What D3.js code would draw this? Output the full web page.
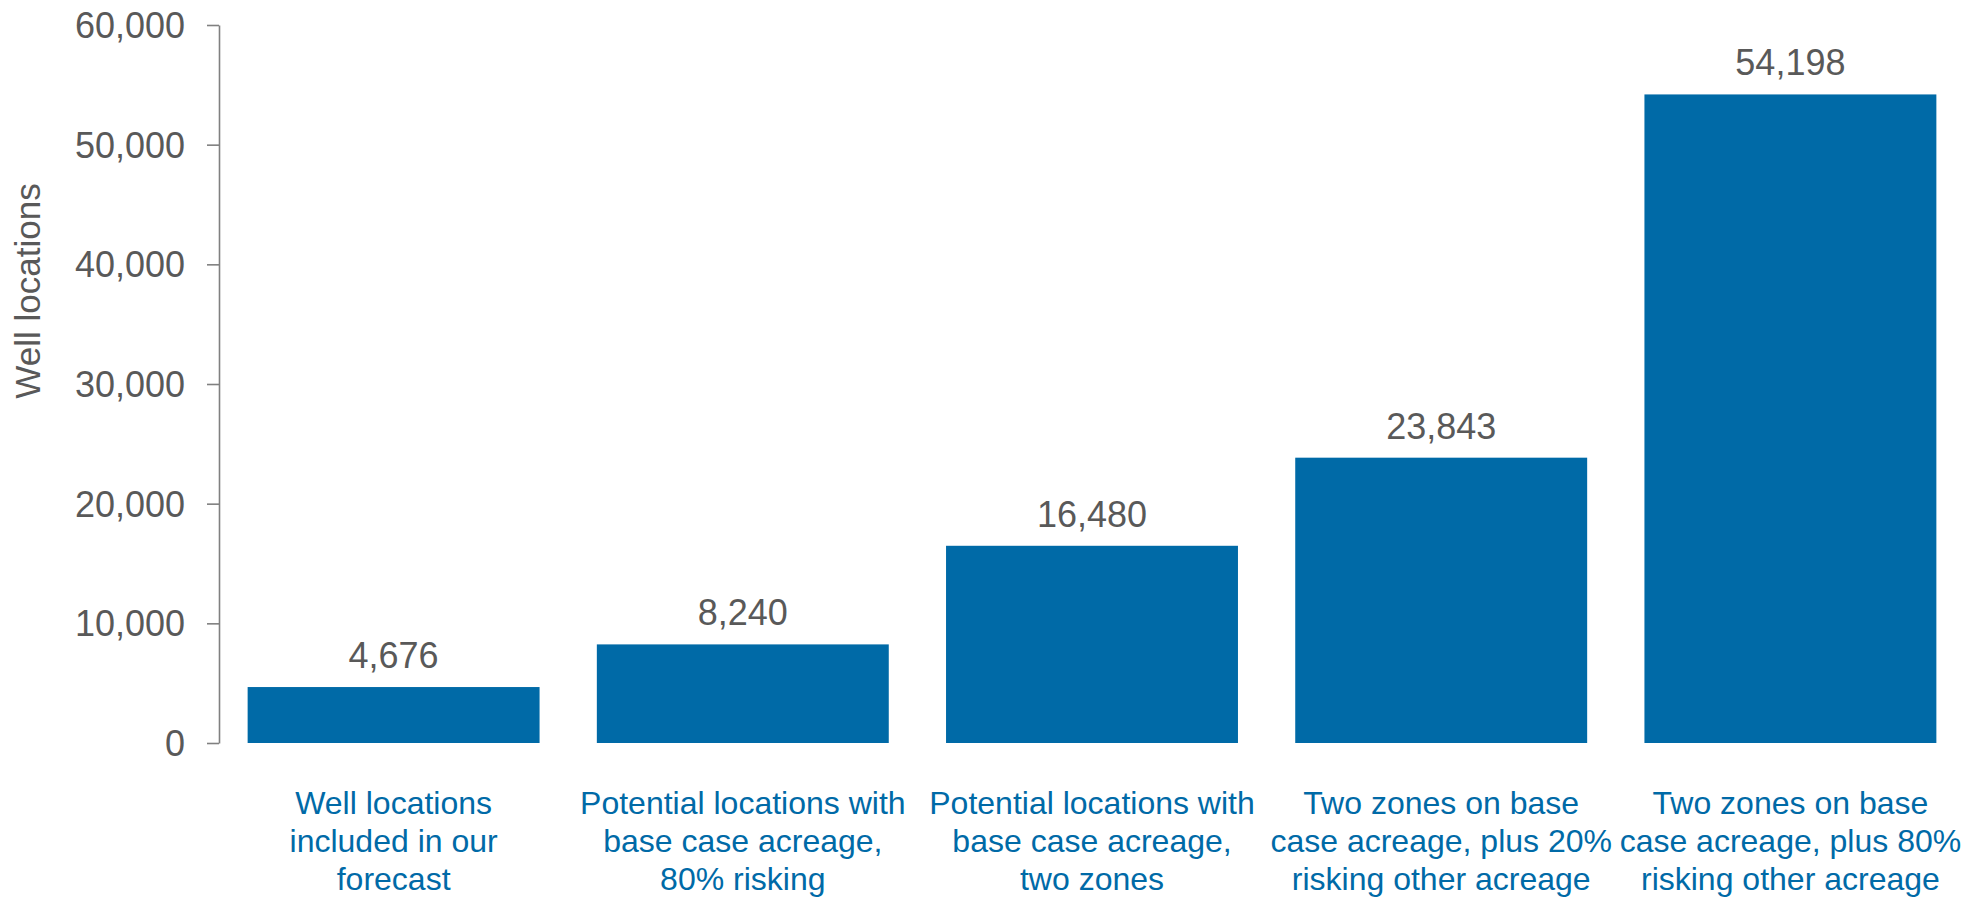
<!DOCTYPE html>
<html>
<head>
<meta charset="utf-8">
<script src="https://cdn.jsdelivr.net/npm/d3@7"></script>
<style>
  html, body { margin: 0; padding: 0; background: #ffffff; }
  svg { display: block; font-family: Arial, "Liberation Sans", sans-serif; }
</style>
</head>
<body>
<svg id="chart" width="1974" height="899"></svg>
<script>
// Well location scenarios
const categories = [
  ["Well locations", "included in our", "forecast"],
  ["Potential locations with", "base case acreage,", "80% risking"],
  ["Potential locations with", "base case acreage,", "two zones"],
  ["Two zones on base", "case acreage, plus 20%", "risking other acreage"],
  ["Two zones on base", "case acreage, plus 80%", "risking other acreage"]
];
const values = [4676, 8240, 16480, 23843, 54198];
const yTicks = [0, 10000, 20000, 30000, 40000, 50000, 60000];
const yTitle = "Well locations";

const svg = d3.select("#chart");
const fmt = d3.format(",");

const x = d3.scaleBand()
  .domain(d3.range(values.length))
  .range([219, 1965])
  .paddingInner(0.164)
  .paddingOuter(0.082);

const y = d3.scaleLinear().domain([0, 60000]).range([743, 25]);

// Y axis
const yAxis = d3.axisLeft(y)
  .tickValues(yTicks)
  .tickFormat(fmt)
  .tickSize(12)
  .tickSizeOuter(0)
  .tickPadding(22);

const gy = svg.append("g")
  .attr("transform", "translate(219,0)")
  .call(yAxis);
gy.select(".domain").attr("stroke", "#808080").attr("stroke-width", 1.6);
gy.selectAll(".tick line").attr("stroke", "#808080").attr("stroke-width", 1.6);
gy.selectAll(".tick text")
  .attr("fill", "#595959")
  .style("font-size", "36px")
  .attr("dy", "0.35em");

// Axis title
svg.append("text")
  .attr("transform", "translate(40,291) rotate(-90)")
  .attr("text-anchor", "middle")
  .attr("fill", "#595959")
  .style("font-size", "35px")
  .text(yTitle);

// Bars
svg.append("g").selectAll("rect")
  .data(values)
  .join("rect")
  .attr("x", (d, i) => x(i))
  .attr("width", x.bandwidth())
  .attr("y", d => y(d))
  .attr("height", d => y(0) - y(d))
  .attr("fill", "#006aa7");

// Value labels
svg.append("g").selectAll("text")
  .data(values)
  .join("text")
  .attr("x", (d, i) => x(i) + x.bandwidth() / 2)
  .attr("y", d => y(d) - 19)
  .attr("text-anchor", "middle")
  .attr("fill", "#595959")
  .style("font-size", "36px")
  .text(d => fmt(d));

// Category labels
const cat = svg.append("g").selectAll("text")
  .data(categories)
  .join("text")
  .attr("text-anchor", "middle")
  .attr("fill", "#006aa7")
  .style("font-size", "32px")
  .attr("transform", (d, i) => `translate(${x(i) + x.bandwidth() / 2},814)`);
cat.selectAll("tspan")
  .data(d => d)
  .join("tspan")
  .attr("x", 0)
  .attr("y", (d, j) => j * 38)
  .text(d => d);
</script>
</body>
</html>
